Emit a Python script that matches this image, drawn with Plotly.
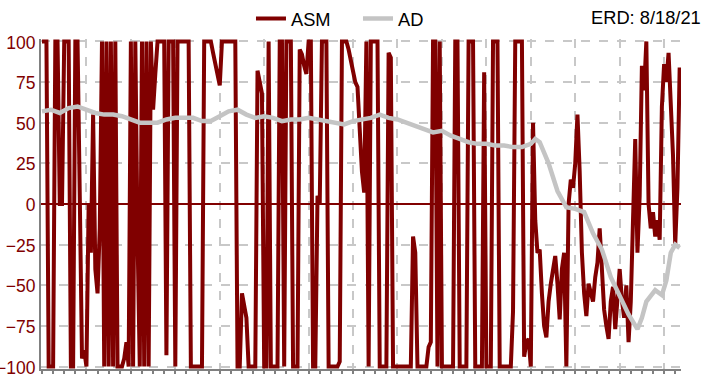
import plotly.graph_objects as go

# ASM values (one per trading day, index 0..287)
asm = [
    100, 100, 100, -100, -100, -100, 100, 100, 0, 0,
    100, 100, 100, -100, -100, 100, 100, 5, -95, -90,
    -100, 0, -30, 55, -40, -55, -15, 100, -100, 100,
    -100, 100, -100, 100, -100, -100, -100, -95, -85, -100,
    100, -100, 100, -20, -100, 100, -100, 100, -100, 100,
    58, 80, 100, 100, 100, 100, -93, 100, 100, 100,
    -100, 100, 100, 100, 100, 100, 100, -100, -100, -100,
    -100, -100, -100, 100, 100, 100, 100, 93, 87, 80,
    73, 100, 100, 100, 100, 100, 100, 100, -100, -100,
    -55, -62, -70, -100, -100, -100, -100, 82, 74, 68,
    -100, -100, 100, -100, -100, -100, -100, 100, 100, -100,
    100, 100, 100, -100, -100, -100, 95, 92, 85, 80,
    100, 100, -100, -100, 5, 0, 100, 100, 100, -100,
    -100, -100, -100, -100, -97, 100, 100, 100, 95, 88,
    80, 75, 72, 45, 20, 7, 100, -100, 100, 100,
    100, 100, -100, -100, -100, -100, 93, 90, -100, -100,
    -100, -100, -100, -100, -100, -100, -100, -20, -30, -100,
    -100, -100, -100, -100, -88, -85, 100, 100, -100, 100,
    -100, -100, -100, -100, -100, -100, 100, 100, -100, -100,
    -100, -100, 100, 100, 100, -100, -100, -100, -100, 81,
    -100, -100, -100, 100, 100, 100, -100, -100, -100, -100,
    -100, -100, -66, 100, 100, 100, 100, -94, -85, -83,
    -100, 50, -10, -30, -28, -55, -75, -82, -60, -49,
    -40, -32, -49, -71, -40, -30, -100, 0, 15, 10,
    25, 55, 20, -30, -55, -69, -49, -55, -60, -45,
    -36, -15, -40, -65, -75, -83, -60, -51, -77, -55,
    -40, -59, -70, -50, -85, -60, 0, 40, -30, 5,
    85, 70, 100, 0, -15, -5, -20, -10, -22, 60,
    86, 75, 93, 60, 30, -25, 10, 84,
]
asm_x = list(range(len(asm)))

# AD values (sampled trading-day index, value)
ad_x = [0, 4, 8, 12, 16, 20, 24, 28, 32, 36, 40, 44, 48, 52, 56, 60, 64, 68,
        72, 76, 80, 84, 88, 92, 96, 100, 104, 108, 112, 116, 120, 124, 128,
        132, 136, 140, 144, 148, 152, 156, 160, 164, 168, 172, 176, 180, 184,
        188, 192, 196, 200, 204, 208, 212, 216, 220, 222, 224, 228, 232, 236,
        240, 244, 248, 252, 256, 260, 264, 268, 270, 272, 276, 279, 281, 283,
        285, 287]
ad = [57, 58, 56, 59, 60, 58, 56, 55, 55, 54, 52, 50, 50, 50, 52, 53, 53, 53,
      51, 51, 54, 57, 58, 55, 53, 54, 53, 51, 52, 52, 53, 52, 51,
      50, 49, 51, 52, 53, 55, 53, 52, 50, 48, 46, 44, 45, 42,
      40, 38, 37, 37, 36, 36, 35, 35, 37, 40, 38, 25, 8, -2,
      -3, -5, -18, -28, -45, -56, -68, -77, -70, -60, -53, -56, -47, -30,
      -25, -27]

y_ticks = [-100, -75, -50, -25, 0, 25, 50, 75, 100]
legend_names = ["ASM", "AD"]
erd_label = "ERD: 8/18/21"

RED = "#800000"
GRAY = "#c4c4c4"
FONT = "Arial, Liberation Sans, sans-serif"

fig = go.Figure()
fig.add_trace(go.Scatter(x=asm_x, y=asm, mode="lines", name=legend_names[0],
                         line=dict(color=RED, width=4)))
fig.add_trace(go.Scatter(x=ad_x, y=ad, mode="lines", name=legend_names[1],
                         line=dict(color=GRAY, width=4.5)))

fig.update_layout(
    width=710, height=374,
    margin=dict(l=41, r=29, t=39, b=5, autoexpand=False),
    paper_bgcolor="white", plot_bgcolor="white",
    font=dict(family=FONT, size=18, color="black"),
    showlegend=True,
    legend=dict(orientation="h", xref="container", yref="container",
                x=0.3535, xanchor="left", y=0.95, yanchor="middle",
                entrywidth=62, entrywidthmode="pixels",
                font=dict(size=18.3, color="black"),
                bgcolor="rgba(0,0,0,0)"),
    annotations=[dict(text=erd_label, xref="paper", yref="paper",
                      x=1.034, y=1.064, xanchor="right", yanchor="middle",
                      showarrow=False, font=dict(size=18.3, color="black"))],
)
fig.update_xaxes(
    range=[-0.45, 287.6], dtick=20, tick0=0, showticklabels=False,
    ticks="outside", ticklen=4, tickwidth=1.5, tickcolor="#808080",
    showgrid=True, gridcolor="#c8c8c8", gridwidth=1.5, griddash="dash",
    showline=True, linecolor="#808080", linewidth=2, zeroline=False,
    automargin=False,
    minor=dict(dtick=5, tick0=0, ticks="outside", ticklen=4, tickwidth=1.5,
               tickcolor="#808080", showgrid=False),
)
fig.update_yaxes(
    range=[-101.5, 101.5], tickvals=y_ticks, ticks="",
    tickfont=dict(color=RED, size=17.5), automargin=False,
    ticklabeloverflow="allow", ticklabelshift=1,
    showgrid=True, gridcolor="#c8c8c8", gridwidth=1.5, griddash="dash",
    showline=True, linecolor="#808080", linewidth=2,
    zeroline=True, zerolinecolor=RED, zerolinewidth=2,
)

fig.write_html(
    "out.html",
    config={"displayModeBar": False},
    post_script=["document.body.style.margin='0';document.body.style.overflow='hidden';"],
)
